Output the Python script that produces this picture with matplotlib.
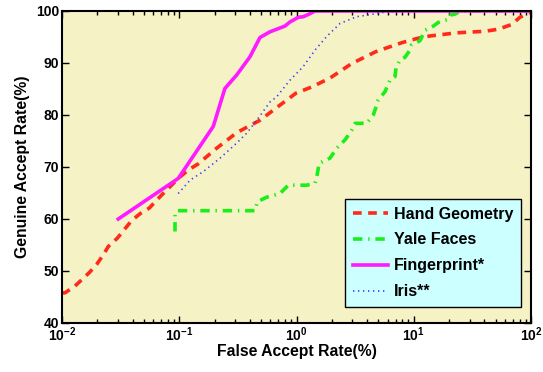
import matplotlib
matplotlib.use("Agg")
import matplotlib.pyplot as plt
from matplotlib.ticker import LogLocator, FixedLocator, NullFormatter

plt.rcParams['font.family'] = ['Liberation Sans', 'DejaVu Sans']
plt.rcParams['font.weight'] = 'bold'
plt.rcParams['mathtext.fontset'] = 'custom'
plt.rcParams['mathtext.rm'] = 'Liberation Sans:bold'
plt.rcParams['mathtext.bf'] = 'Liberation Sans:bold'
plt.rcParams['mathtext.default'] = 'bf'

# Hand Geometry
hand_far = [0.01, 0.0106, 0.0129, 0.0147, 0.0171, 0.0198, 0.0225, 0.0248, 0.0296, 0.0338,
            0.0393, 0.0462, 0.0555, 0.0686, 0.0834, 0.098, 0.119, 0.145, 0.208, 0.309,
            0.489, 0.723, 0.99, 1.35, 1.93, 2.96, 4.77, 7.89, 10.6, 13.8, 23.2, 40.5,
            52.6, 68.4, 80.5, 100]
hand_gar = [45.8, 45.8, 47.1, 48.3, 49.7, 51.3, 53.1, 54.7, 56.3, 57.9,
            59.7, 61.0, 62.1, 64.3, 66.2, 67.8, 69.4, 70.6, 73.6, 76.6,
            79.0, 81.9, 84.2, 85.4, 87.1, 89.9, 92.2, 93.9, 94.7, 95.2, 95.8, 96.1,
            96.5, 97.4, 98.8, 99.8]

# Yale Faces
yale_far = [0.092, 0.092, 0.095, 0.443, 0.463, 0.557, 0.723, 0.851, 1.22, 1.44, 1.49,
            1.56, 1.93, 2.20, 2.59, 2.96, 3.16, 3.97, 4.52, 4.83, 4.99, 5.69, 6.27,
            6.92, 7.06, 7.64, 8.42, 9.29, 9.60, 10.9, 11.3, 12.5, 14.7, 16.2, 19.7,
            20.4, 22.5, 25.0, 100]
yale_gar = [57.6, 60.8, 61.6, 61.6, 63.3, 64.2, 64.9, 66.5, 66.5, 66.9, 68.1,
            70.7, 71.7, 73.6, 75.2, 77.1, 78.4, 78.4, 80.0, 81.9, 82.9, 84.5, 86.7,
            87.4, 89.0, 90.6, 91.1, 92.5, 93.5, 94.1, 94.3, 96.3, 97.1, 97.8, 98.4,
            99.2, 99.4, 100, 100]

# Fingerprint*
finger_far = [0.0302, 0.098, 0.105, 0.195, 0.245, 0.309, 0.401, 0.488, 0.594, 0.797,
              0.88, 1.04, 1.14, 1.28, 1.44, 100]
finger_gar = [60.0, 67.8, 68.8, 77.8, 85.1, 87.7, 91.2, 94.9, 96.0, 97.1,
              97.9, 98.8, 98.9, 99.4, 100, 100]

# Iris**
iris_far = [0.098, 0.124, 0.160, 0.223, 0.309, 0.376, 0.458, 0.594, 0.678, 0.797,
            0.88, 1.14, 1.44, 1.81, 2.35, 3.26, 4.52, 5.33, 7.6, 100]
iris_gar = [64.9, 67.5, 69.1, 71.7, 74.6, 76.5, 79.0, 82.5, 83.5, 85.5,
            86.7, 89.3, 92.5, 95.1, 97.6, 98.9, 99.4, 99.7, 100, 100]

x_ticks = [0.01, 0.1, 1, 10, 100]
x_ticklabels = ['$10^{-2}$', '$10^{-1}$', '$10^{0}$', '$10^{1}$', '$10^{2}$']
y_ticks = [40, 50, 60, 70, 80, 90, 100]

fig = plt.figure(figsize=(5.43, 3.72), dpi=100)
ax = fig.add_axes([62/543, 1-323/372, (531-62)/543, (323-11)/372])
ax.set_facecolor('#f5f2c5')

ax.plot(hand_far, hand_gar, color='#ff2a1a', lw=2.6, ls=(0, (2.4, 1.8)), label='Hand Geometry')
ax.plot(yale_far, yale_gar, color='#1aef1a', lw=2.6, ls=(0, (2.6, 1.6, 0.4, 1.6)), label='Yale Faces')
ax.plot(finger_far, finger_gar, color='#ff1aff', lw=2.6, ls='-', label='Fingerprint*')
ax.plot(iris_far, iris_gar, color='#3a3aff', lw=1.2, ls=(0, (0.8, 2.2)), label='Iris**')

ax.set_xscale('log')
ax.set_xlim(0.01, 100)
ax.set_ylim(40, 100)
ax.set_yticks(y_ticks)
ax.xaxis.set_major_locator(FixedLocator(x_ticks))
ax.set_xticklabels(x_ticklabels)
ax.xaxis.set_minor_locator(LogLocator(base=10, subs=range(2, 10)))
ax.xaxis.set_minor_formatter(NullFormatter())
ax.tick_params(which='both', direction='in', top=True, right=True, labelsize=10, width=1)
ax.tick_params(which='major', length=5, pad=2)
ax.tick_params(which='minor', length=3)
for s in ax.spines.values():
    s.set_linewidth(1.5)

ax.set_xlabel('False Accept Rate(%)', fontsize=11.3, fontweight='bold', labelpad=0)
ax.set_ylabel('Genuine Accept Rate(%)', fontsize=11.3, fontweight='bold', labelpad=4)

leg = ax.legend(loc='lower right', bbox_to_anchor=(0.979, 0.051), borderaxespad=0,
                fontsize=11.5, fancybox=False, framealpha=1, facecolor='#ccffff',
                edgecolor='black', handlelength=2.2, handletextpad=0.35,
                borderpad=0.5, labelspacing=0.68)
leg.get_frame().set_linewidth(1)
for t in leg.get_texts():
    t.set_fontweight('bold')

fig.savefig('out.png', dpi=100)
